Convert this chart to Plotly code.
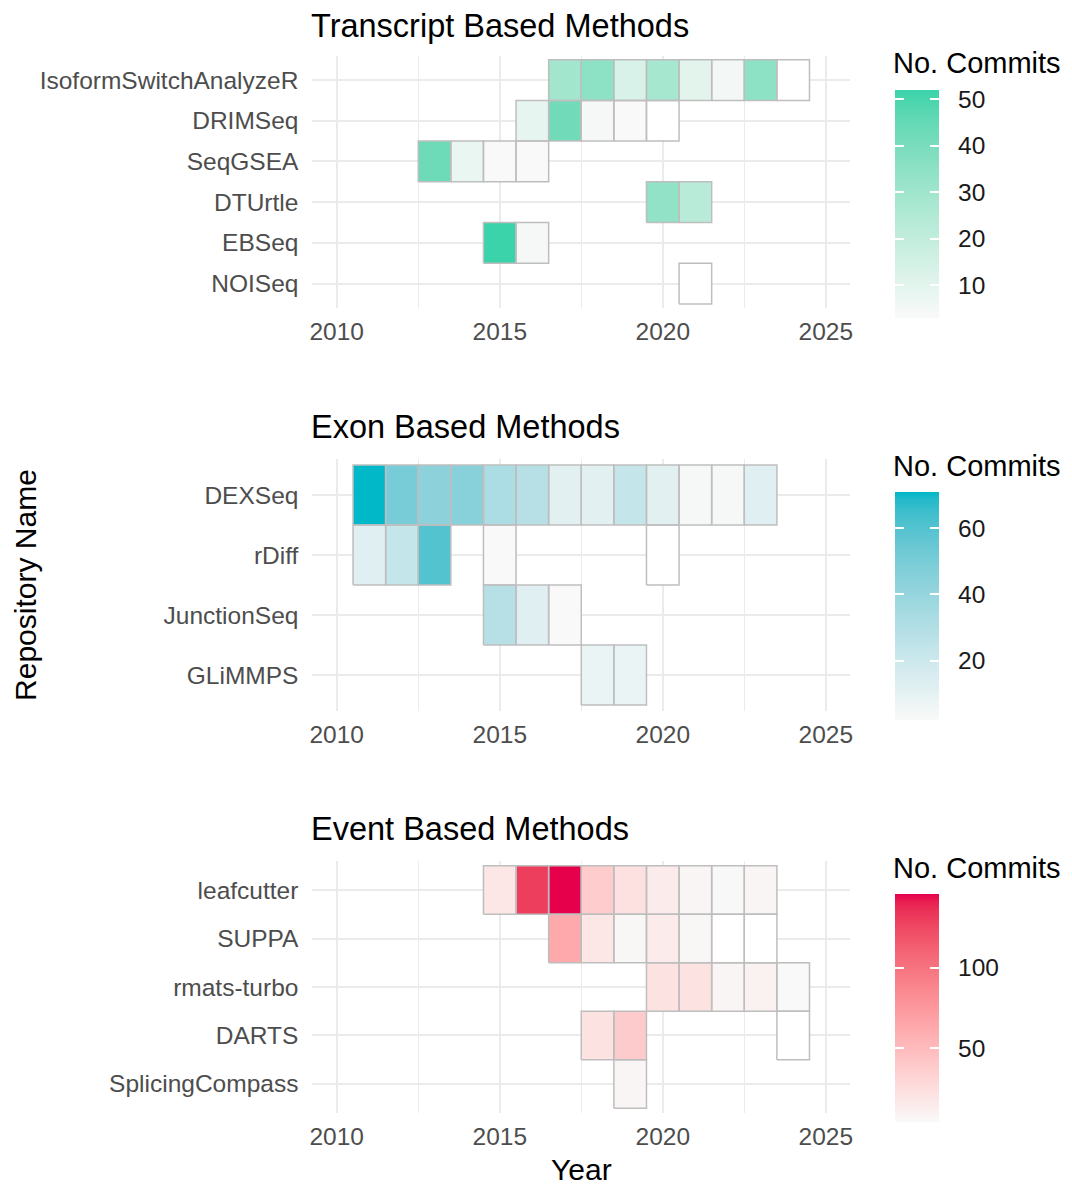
import plotly.graph_objects as go
import numpy as np

# ---------------- DATA ----------------
# Transcript based methods (rows listed top -> bottom)
tr_rows = ["IsoformSwitchAnalyzeR", "DRIMSeq", "SeqGSEA", "DTUrtle", "EBSeq", "NOISeq"]
tr_repo = (["IsoformSwitchAnalyzeR"] * 8 + ["DRIMSeq"] * 5 + ["SeqGSEA"] * 4
           + ["DTUrtle"] * 2 + ["EBSeq"] * 2 + ["NOISeq"])
tr_year = [2017, 2018, 2019, 2020, 2021, 2022, 2023, 2024,
           2016, 2017, 2018, 2019, 2020,
           2013, 2014, 2015, 2016,
           2020, 2021,
           2015, 2016,
           2021]
tr_commits = [29, 35, 13, 28, 10, 5, 35, None,
              9, 42, 4, 3, None,
              43, 8, 3, 3,
              34, 23,
              52, 4,
              None]

# Exon based methods
ex_rows = ["DEXSeq", "rDiff", "JunctionSeq", "GLiMMPS"]
ex_repo = (["DEXSeq"] * 13 + ["rDiff"] * 5 + ["JunctionSeq"] * 3 + ["GLiMMPS"] * 2)
ex_year = [2011, 2012, 2013, 2014, 2015, 2016, 2017, 2018, 2019, 2020, 2021, 2022, 2023,
           2011, 2012, 2013, 2015, 2020,
           2015, 2016, 2017,
           2018, 2019]
ex_commits = [71, 50, 43, 45, 32, 28, 11, 11, 23, 11, 3, 3, 12,
              12, 23, 60, 2, None,
              28, 12, 2,
              8, 8]

# Event based methods
ev_rows = ["leafcutter", "SUPPA", "rmats-turbo", "DARTS", "SplicingCompass"]
ev_repo = (["leafcutter"] * 9 + ["SUPPA"] * 7 + ["rmats-turbo"] * 5 + ["DARTS"] * 3
           + ["SplicingCompass"])
ev_year = [2015, 2016, 2017, 2018, 2019, 2020, 2021, 2022, 2023,
           2017, 2018, 2019, 2020, 2021, 2022, 2023,
           2020, 2021, 2022, 2023, 2024,
           2018, 2019, 2024,
           2019]
ev_commits = [18, 130, 146, 37, 23, 14, 7, 5, 7,
              62, 18, 6, 14, 6, None, None,
              21, 21, 7, 10, 4,
              21, 38, None,
              7]

panel_titles = ["Transcript Based Methods", "Exon Based Methods", "Event Based Methods"]
x_ticks = [2010, 2015, 2020, 2025]
cb_ticks = [[10, 20, 30, 40, 50], [20, 40, 60], [50, 100]]

# ---------------- STYLE ----------------
FONT = "Liberation Sans, Arial, sans-serif"
LOW = "#F9F9F9"
HIGHS = ["#3BD3AA", "#00B8C8", "#E6004C"]
GRID = "#EBEBEB"
BORDER = "#BEBEBE"
OFF = 8                      # browser body margin
FW, FH = 1072 - OFF, 1185 - OFF


def px_x(p):
    return (p - OFF) / FW


def px_y(p):
    return 1 - (p - OFF) / FH


def hex2rgb(h):
    h = h.lstrip("#")
    return [int(h[i:i + 2], 16) / 255 for i in (0, 2, 4)]


WP = np.array([0.95047, 1.0, 1.08883])


def rgb2lab(c):
    c = np.array(c)
    c = np.where(c > 0.04045, ((c + 0.055) / 1.055) ** 2.4, c / 12.92)
    M = np.array([[0.4124, 0.3576, 0.1805], [0.2126, 0.7152, 0.0722], [0.0193, 0.1192, 0.9505]])
    xyz = M @ c / WP
    f = np.where(xyz > 0.008856, np.cbrt(xyz), 7.787 * xyz + 16 / 116)
    return np.array([116 * f[1] - 16, 500 * (f[0] - f[1]), 200 * (f[1] - f[2])])


def lab2rgb(lab):
    L, a, b = lab
    fy = (L + 16) / 116
    f = np.array([fy + a / 500, fy, fy - b / 200])
    xyz = np.where(f ** 3 > 0.008856, f ** 3, (f - 16 / 116) / 7.787) * WP
    Mi = np.array([[3.2406, -1.5372, -0.4986], [-0.9689, 1.8758, 0.0415], [0.0557, -0.2040, 1.0570]])
    c = Mi @ xyz
    c = np.clip(c, 0, None)
    c = np.where(c > 0.0031308, 1.055 * c ** (1 / 2.4) - 0.055, 12.92 * c)
    c = np.clip(c, 0, 1)
    return "rgb(%d,%d,%d)" % tuple(int(round(v * 255)) for v in c)


def lab_scale(low, high, n=31):
    a, b = rgb2lab(hex2rgb(low)), rgb2lab(hex2rgb(high))
    return [[i / (n - 1), lab2rgb(a + (b - a) * i / (n - 1))] for i in range(n)]


x_dom = [px_x(311), px_x(852)]
panel_px = [(55.6, 308.0), (459.0, 711.0), (861.0, 1113.0)]
cb_px = [(90, 318), (492, 720), (894, 1122)]
title_px = [26, 427, 829]
cbtitle_px = [63, 466, 868]
CB_L, CB_W = 897, 44
NB = "\u00a0\u00a0"

panels = [
    (tr_rows, tr_repo, tr_year, tr_commits),
    (ex_rows, ex_repo, ex_year, ex_commits),
    (ev_rows, ev_repo, ev_year, ev_commits),
]

fig = go.Figure()
layout = dict(
    width=FW, height=FH, margin=dict(l=0, r=0, t=0, b=0),
    paper_bgcolor="white", plot_bgcolor="white",
    font=dict(family=FONT, color="#000000"), showlegend=False,
)
annotations = []

for k, (rows, repo, year, commits) in enumerate(panels):
    n = len(rows)
    ridx = {r: n - 1 - i for i, r in enumerate(rows)}
    yrs = list(range(min(year), max(year) + 1))
    z = [[None] * len(yrs) for _ in range(n)]
    zna = [[None] * len(yrs) for _ in range(n)]
    for r, y, c in zip(repo, year, commits):
        if c is None:
            zna[ridx[r]][yrs.index(y)] = 1
        else:
            z[ridx[r]][yrs.index(y)] = c
    vals = [c for c in commits if c is not None]
    zmin, zmax = min(vals), max(vals)
    xa = "x" if k == 0 else "x%d" % (k + 1)
    ya = "y" if k == 0 else "y%d" % (k + 1)
    cb_top, cb_bot = cb_px[k]
    cscale = lab_scale(LOW, HIGHS[k])
    cb_common = dict(
        x=px_x(CB_L), xanchor="left", xpad=0, ypad=0,
        y=px_y((cb_top + cb_bot) / 2), yanchor="middle",
        len=cb_bot - cb_top, lenmode="pixels", thicknessmode="pixels",
        outlinewidth=0, tickvals=cb_ticks[k], ticks="inside", ticklen=CB_W / 5,
        tickcolor="white", tickwidth=1.5,
    )
    fig.add_trace(go.Heatmap(
        x=yrs, y=list(range(n)), z=zna, xaxis=xa, yaxis=ya,
        colorscale=[[0, "white"], [1, "white"]], showscale=False, hoverinfo="skip",
        zmin=0, zmax=1))
    fig.add_trace(go.Heatmap(
        x=yrs, y=list(range(n)), z=z, xaxis=xa, yaxis=ya,
        colorscale=cscale, zmin=zmin, zmax=zmax,
        colorbar=dict(**cb_common, thickness=CB_W,
                      ticktext=[NB + str(v) for v in cb_ticks[k]],
                      tickfont=dict(family=FONT, size=24.5, color="#1A1A1A"))))
    # same layer again: its narrow colour bar supplies the left-edge legend ticks
    fig.add_trace(go.Heatmap(
        x=yrs, y=list(range(n)), z=z, xaxis=xa, yaxis=ya,
        colorscale=cscale, zmin=zmin, zmax=zmax, hoverinfo="skip",
        colorbar=dict(**cb_common, thickness=CB_W / 5, showticklabels=False)))
    # tile borders
    bx, by = [], []
    for r, y in zip(repo, year):
        yy = ridx[r]
        bx += [y - 0.5, y + 0.5, y + 0.5, y - 0.5, y - 0.5, None]
        by += [yy - 0.5, yy - 0.5, yy + 0.5, yy + 0.5, yy - 0.5, None]
    fig.add_trace(go.Scatter(x=bx, y=by, mode="lines", xaxis=xa, yaxis=ya,
                             line=dict(color=BORDER, width=1.5), hoverinfo="skip"))

    top, bot = panel_px[k]
    xkey = "xaxis" if k == 0 else "xaxis%d" % (k + 1)
    ykey = "yaxis" if k == 0 else "yaxis%d" % (k + 1)
    layout[xkey] = dict(
        domain=x_dom, anchor=ya, range=[2009.25, 2025.75],
        tickvals=x_ticks, showgrid=True, gridcolor=GRID, gridwidth=1.5,
        minor=dict(dtick=2.5, tick0=2010, showgrid=True, gridcolor=GRID, gridwidth=1),
        zeroline=False, showline=False, ticks="outside", ticklen=2,
        tickcolor="rgba(0,0,0,0)",
        tickfont=dict(family=FONT, size=24.5, color="#4D4D4D"),
    )
    layout[ykey] = dict(
        domain=[px_y(bot), px_y(top)], anchor=xa, range=[-0.6, n - 0.4],
        tickvals=list(range(n)), ticktext=[rows[n - 1 - i] for i in range(n)],
        showgrid=True, gridcolor=GRID, gridwidth=1.5, zeroline=False, showline=False,
        ticks="outside", ticklen=8, tickcolor="rgba(0,0,0,0)",
        tickfont=dict(family=FONT, size=24.5, color="#4D4D4D"),
    )
    annotations.append(dict(
        text=panel_titles[k], x=px_x(309), y=px_y(title_px[k]), xref="paper", yref="paper",
        xanchor="left", yanchor="middle", showarrow=False, borderpad=0,
        font=dict(family=FONT, size=32.5, color="#000000")))
    annotations.append(dict(
        text="No. Commits", x=px_x(CB_L - 3), y=px_y(cbtitle_px[k]), xref="paper", yref="paper",
        xanchor="left", yanchor="middle", showarrow=False, borderpad=0,
        font=dict(family=FONT, size=29, color="#000000")))

annotations.append(dict(
    text="Year", x=(x_dom[0] + x_dom[1]) / 2, y=px_y(1169), xref="paper", yref="paper",
    xanchor="center", yanchor="middle", showarrow=False, borderpad=0,
    font=dict(family=FONT, size=30, color="#000000")))
annotations.append(dict(
    text="Repository Name", x=px_x(22), y=px_y(585), xref="paper", yref="paper",
    xanchor="center", yanchor="middle", showarrow=False, textangle=-90,
    font=dict(family=FONT, size=30, color="#000000")))

layout["annotations"] = annotations
fig.update_layout(**layout)
fig.write_html("out.html")
